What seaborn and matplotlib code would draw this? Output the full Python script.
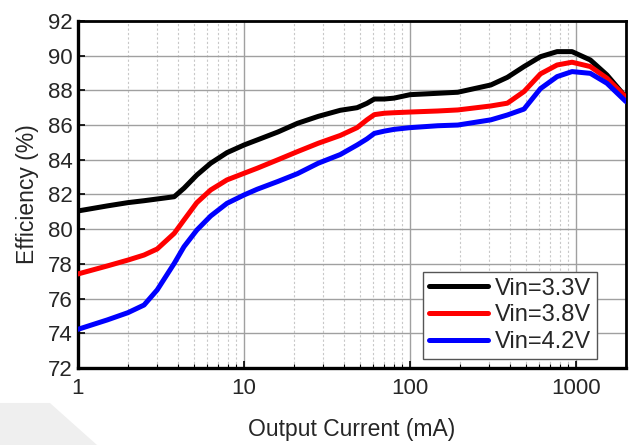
import matplotlib
matplotlib.use("Agg")
import matplotlib.pyplot as plt
from matplotlib.patches import Polygon
from matplotlib.ticker import LogLocator, FixedLocator, NullFormatter, FixedFormatter
import numpy as np
import pandas as pd
import seaborn as sns

# Output current (mA), shared by all three measurements
current_ma = [1, 1.5, 2, 2.5, 3, 3.8, 4.35, 5.2, 6.3, 7.9, 10, 12, 16, 21, 28, 38, 48,
              55, 61, 70, 80, 100, 147, 194, 307, 386, 486, 611, 769, 946, 1219,
              1534, 2000]

# Efficiency (%) for each input voltage
eff_3v3 = [81.05, 81.34, 81.53, 81.64, 81.74, 81.87, 82.36, 83.12, 83.8, 84.41, 84.85,
           85.14, 85.6, 86.1, 86.5, 86.85, 87.0, 87.25, 87.5, 87.5, 87.55, 87.75,
           87.83, 87.89, 88.31, 88.75, 89.37, 89.94, 90.23, 90.23, 89.75, 88.89, 87.6]
eff_3v8 = [77.42, 77.88, 78.22, 78.51, 78.86, 79.76, 80.53, 81.53, 82.26, 82.84, 83.22,
           83.51, 84.0, 84.47, 84.95, 85.4, 85.85, 86.3, 86.6, 86.68, 86.71, 86.75,
           86.81, 86.87, 87.1, 87.26, 87.93, 88.95, 89.46, 89.62, 89.37, 88.7, 87.6]
eff_4v2 = [74.23, 74.77, 75.19, 75.63, 76.5, 78.03, 78.99, 79.95, 80.76, 81.49, 81.97,
           82.3, 82.75, 83.2, 83.8, 84.3, 84.85, 85.2, 85.52, 85.65, 85.75, 85.85,
           85.96, 86.0, 86.3, 86.58, 86.92, 88.1, 88.79, 89.08, 88.98, 88.41, 87.35]

series_labels = ["Vin=3.3V", "Vin=3.8V", "Vin=4.2V"]
series_colors = ["#000000", "#ff0000", "#0000ff"]

y_ticks = [72, 74, 76, 78, 80, 82, 84, 86, 88, 90, 92]
x_ticks = [1, 10, 100, 1000]
x_tick_labels = ["1", "10", "100", "1000"]

df = pd.concat([
    pd.DataFrame({"current": current_ma, "eff": vals, "Vin": lab})
    for vals, lab in zip([eff_3v3, eff_3v8, eff_4v2], series_labels)
], ignore_index=True)

sns.set_style("white")
plt.rcParams["font.family"] = ["Liberation Sans", "DejaVu Sans"]

fig = plt.figure(figsize=(6.32, 4.45), dpi=100)
ax = fig.add_axes([0.1234, 0.173, 0.8671, 0.780])

# light backdrop shape in the lower-left corner
fig.patches.append(Polygon([[0, 0], [0, 0.0944], [0.079, 0.0944], [0.1535, 0]],
                           closed=True, transform=fig.transFigure,
                           facecolor="#efefef", edgecolor="none", zorder=0))

sns.lineplot(data=df, x="current", y="eff", hue="Vin", hue_order=series_labels,
             palette=series_colors, linewidth=3.6, estimator=None, ax=ax,
             solid_capstyle="round", solid_joinstyle="round", zorder=3)

ax.set_xscale("log")
ax.set_xlim(1, 2000)
ax.set_ylim(72, 92)
ax.xaxis.set_major_locator(FixedLocator(x_ticks))
ax.xaxis.set_major_formatter(FixedFormatter(x_tick_labels))
ax.xaxis.set_minor_locator(LogLocator(base=10, subs=np.arange(2, 10), numticks=20))
ax.xaxis.set_minor_formatter(NullFormatter())
ax.set_yticks(y_ticks)

ax.grid(which="major", axis="both", color="#a0a0a0", linewidth=1.0, linestyle="-")
ax.grid(which="minor", axis="x", color="#c8c8c8", linewidth=0.8, linestyle=(0, (2, 2)))
ax.set_axisbelow(True)

for side in ["left", "bottom", "right", "top"]:
    ax.spines[side].set_visible(True)
    ax.spines[side].set_color("black")
    ax.spines[side].set_linewidth(2.0)
ax.spines["bottom"].set_linewidth(2.4)
ax.spines["left"].set_linewidth(2.4)

ax.tick_params(which="major", direction="in", length=5, width=1.2, color="black",
               labelsize=16, bottom=True, left=True)
ax.tick_params(which="minor", direction="in", length=3, width=0.8, color="black",
               bottom=True)
ax.tick_params(axis="x", which="major", pad=7)
ax.tick_params(axis="y", which="major", pad=4)

ax.set_xlabel("Output Current (mA)", fontsize=16.5, labelpad=14)
ax.set_ylabel("Efficiency (%)", fontsize=16.5, labelpad=6)

handles, labels = ax.get_legend_handles_labels()
leg = ax.legend(handles, labels, loc="lower right", bbox_to_anchor=(0.947, 0.026),
                fontsize=17, frameon=True, fancybox=False, framealpha=1,
                edgecolor="#555555", handlelength=2.5, handletextpad=0.3,
                labelspacing=0.2, borderpad=0.25, borderaxespad=0)
leg.get_frame().set_linewidth(1.0)
for line in leg.get_lines():
    line.set_linewidth(3.6)

fig.savefig("out.png", dpi=100)
